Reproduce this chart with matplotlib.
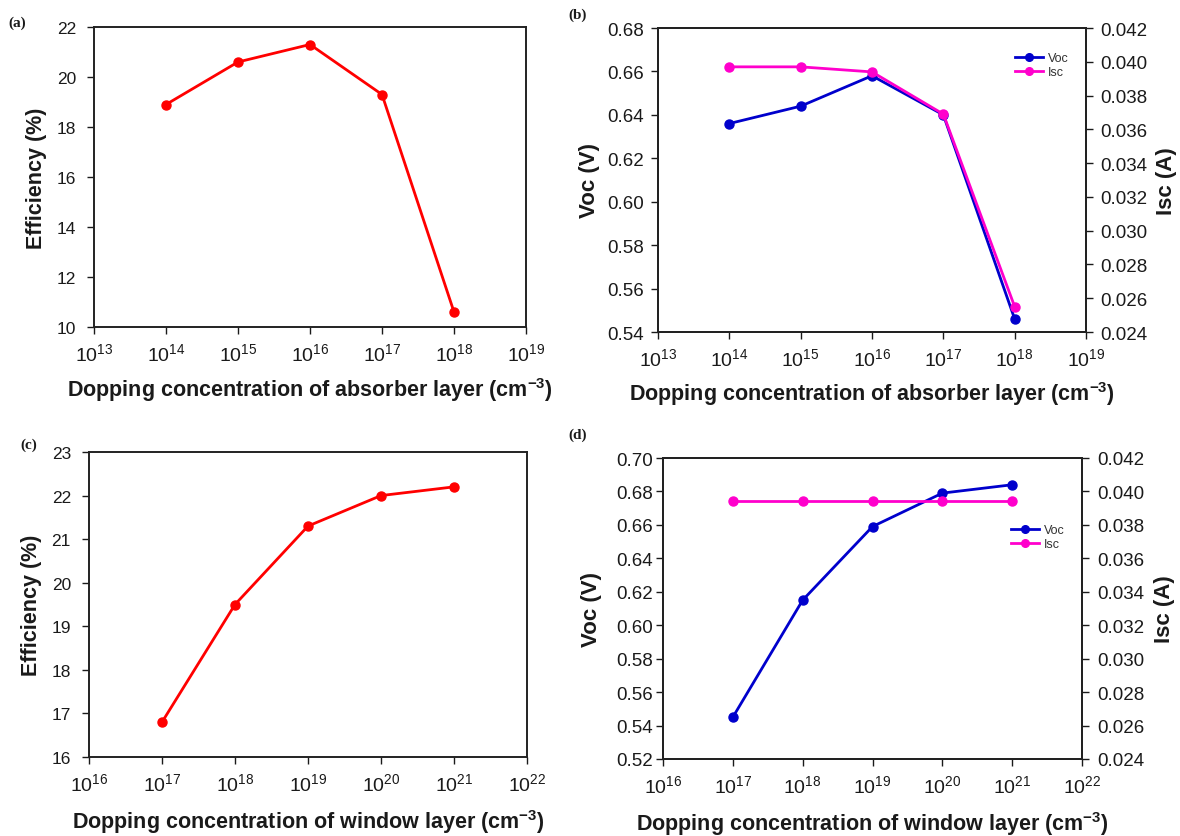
import matplotlib
matplotlib.use("Agg")
import matplotlib.pyplot as plt
from matplotlib.ticker import NullLocator, FixedLocator, FixedFormatter
from matplotlib.lines import Line2D

plt.rcParams['font.family'] = ['Liberation Sans', 'DejaVu Sans']
plt.rcParams['mathtext.fontset'] = 'custom'
plt.rcParams['mathtext.rm'] = 'Liberation Sans'
plt.rcParams['mathtext.bf'] = 'Liberation Sans:bold'
plt.rcParams['mathtext.it'] = 'Liberation Sans:italic'

# ---- data ----
absorber_doping = [1e14, 1e15, 1e16, 1e17, 1e18]
absorber_eff = [18.9, 20.6, 21.3, 19.3, 10.6]
absorber_voc = [0.636, 0.644, 0.658, 0.640, 0.546]
absorber_isc = [0.0397, 0.0397, 0.0394, 0.0369, 0.0255]

window_doping = [1e17, 1e18, 1e19, 1e20, 1e21]
window_eff = [16.8, 19.5, 21.3, 22.0, 22.2]
window_voc = [0.545, 0.615, 0.659, 0.679, 0.684]
window_isc = [0.0394, 0.0394, 0.0394, 0.0394, 0.0394]

absorber_xticks_exp = [13, 14, 15, 16, 17, 18, 19]
window_xticks_exp = [16, 17, 18, 19, 20, 21, 22]
eff_ticks_a = [10, 12, 14, 16, 18, 20, 22]
eff_ticks_c = [16, 17, 18, 19, 20, 21, 22, 23]
voc_ticks_b = [0.54, 0.56, 0.58, 0.60, 0.62, 0.64, 0.66, 0.68]
voc_ticks_d = [0.52, 0.54, 0.56, 0.58, 0.60, 0.62, 0.64, 0.66, 0.68, 0.70]
isc_ticks = [0.024, 0.026, 0.028, 0.030, 0.032, 0.034, 0.036, 0.038, 0.040, 0.042]

RED = '#ff0000'
BLUE = '#0000cc'
MAGENTA = '#ff00cc'
TXT = '#1a1a1a'

W, H = 1180, 837
fig = plt.figure(figsize=(W / 100, H / 100), dpi=100)


def make_axes(x0, y0, x1, y1):
    ax = fig.add_axes([x0 / W, 1 - y1 / H, (x1 - x0) / W, (y1 - y0) / H])
    ax._px = (x0, y0, x1, y1)
    return ax


def style_xaxis(ax, exps):
    ax.set_xscale('log')
    ticks = [10.0 ** e for e in exps]
    ax.set_xlim(ticks[0], ticks[-1])
    ax.xaxis.set_major_locator(FixedLocator(ticks))
    ax.xaxis.set_major_formatter(FixedFormatter([r'$10^{%d}$' % e for e in exps]))
    ax.xaxis.set_minor_locator(NullLocator())
    ax.tick_params(axis='x', labelsize=14, pad=6)


def common(ax):
    for s in ax.spines.values():
        s.set_linewidth(1.4)
        s.set_color('#222222')
    ax.tick_params(axis='both', direction='out', length=5, width=1.0,
                   colors=TXT)


def set_ylabel_px(ax, text, x_px, size, right=False):
    x0, y0, x1, y1 = ax._px
    if right:
        ax.set_ylabel(text, fontsize=size, fontweight='bold', color=TXT)
    else:
        ax.set_ylabel(text, fontsize=size, fontweight='bold', color=TXT)
    ax.yaxis.set_label_coords((x_px - x0) / (x1 - x0), 0.5)


def set_xlabel_px(ax, text, top_px, size):
    x0, y0, x1, y1 = ax._px
    ax.set_xlabel(text, fontsize=size, fontweight='bold', color=TXT)
    ax.xaxis.set_label_coords(0.5, -(top_px - y1) / (y1 - y0))


PANEL_KW = dict(fontsize=11, fontweight='bold', family='Liberation Serif',
                va='center', ha='left', color=TXT)
LINE_KW = dict(lw=2, marker='o', ms=6.5)

xlabel_abs = r'Dopping concentration of absorber layer (cm$^{\mathbf{-3}}$)'
xlabel_win = r'Dopping concentration of window layer (cm$^{\mathbf{-3}}$)'

# (a)
ax = make_axes(94, 28, 526, 328)
ax.plot(absorber_doping, absorber_eff, color=RED, **LINE_KW)
common(ax)
style_xaxis(ax, absorber_xticks_exp)
ax.set_ylim(10, 22)
ax.set_yticks(eff_ticks_a)
ax.tick_params(axis='y', labelsize=12.5, pad=8)
set_ylabel_px(ax, 'Efficiency (%)', 47, 15.5)
set_xlabel_px(ax, xlabel_abs, 376, 15.5)
fig.text(8 / W, 1 - 23 / H, '(a)', **PANEL_KW)

# (b)
ax = make_axes(658, 29, 1086, 333)
ax2 = ax.twinx()
ax2._px = ax._px
ax.plot(absorber_doping, absorber_voc, color=BLUE, **LINE_KW)
ax2.plot(absorber_doping, absorber_isc, color=MAGENTA, **LINE_KW)
common(ax)
common(ax2)
style_xaxis(ax, absorber_xticks_exp)
ax.set_ylim(0.54, 0.68)
ax.set_yticks(voc_ticks_b)
ax.set_yticklabels(['%.2f' % v for v in voc_ticks_b])
ax2.set_ylim(0.024, 0.042)
ax2.set_yticks(isc_ticks)
ax2.set_yticklabels(['%.3f' % v for v in isc_ticks])
ax.tick_params(axis='y', labelsize=13.5, pad=5)
ax2.tick_params(axis='y', labelsize=13.5, pad=5)
set_ylabel_px(ax, 'Voc (V)', 600, 16)
set_ylabel_px(ax2, 'Isc (A)', 1156, 16, right=True)
set_xlabel_px(ax, xlabel_abs, 380, 15.5)
handles = [Line2D([], [], color=BLUE, lw=2, marker='o', ms=5.5),
           Line2D([], [], color=MAGENTA, lw=2, marker='o', ms=5.5)]
fig.legend(handles, ['Voc', 'Isc'], loc='upper left',
           bbox_to_anchor=(1015 / W, 1 - 53 / H), frameon=False, fontsize=9,
           borderaxespad=0, borderpad=0,
           handlelength=2.2, handletextpad=0.4, labelspacing=0.15, labelcolor='#333333')
fig.text(568 / W, 1 - 15 / H, '(b)', **PANEL_KW)

# (c)
ax = make_axes(89, 453, 527, 758)
ax.plot(window_doping, window_eff, color=RED, **LINE_KW)
common(ax)
style_xaxis(ax, window_xticks_exp)
ax.set_ylim(16, 23)
ax.set_yticks(eff_ticks_c)
ax.tick_params(axis='y', labelsize=12.5, pad=8)
set_ylabel_px(ax, 'Efficiency (%)', 42, 15.5)
set_xlabel_px(ax, xlabel_win, 808, 15.5)
fig.text(20 / W, 1 - 445 / H, '(c)', **PANEL_KW)

# (d)
ax = make_axes(663, 459, 1082, 760)
ax2 = ax.twinx()
ax2._px = ax._px
ax.plot(window_doping, window_voc, color=BLUE, **LINE_KW)
ax2.plot(window_doping, window_isc, color=MAGENTA, **LINE_KW)
common(ax)
common(ax2)
style_xaxis(ax, window_xticks_exp)
ax.set_ylim(0.52, 0.70)
ax.set_yticks(voc_ticks_d)
ax.set_yticklabels(['%.2f' % v for v in voc_ticks_d])
ax2.set_ylim(0.024, 0.042)
ax2.set_yticks(isc_ticks)
ax2.set_yticklabels(['%.3f' % v for v in isc_ticks])
ax.tick_params(axis='y', labelsize=13.5, pad=2)
ax2.tick_params(axis='y', labelsize=13.5, pad=6)
set_ylabel_px(ax, 'Voc (V)', 602, 16)
set_ylabel_px(ax2, 'Isc (A)', 1154, 16, right=True)
set_xlabel_px(ax, xlabel_win, 810, 15.5)
fig.legend(handles, ['Voc', 'Isc'], loc='upper left',
           bbox_to_anchor=(1011 / W, 1 - 525 / H), frameon=False, fontsize=9,
           borderaxespad=0, borderpad=0,
           handlelength=2.2, handletextpad=0.4, labelspacing=0.15, labelcolor='#333333')
fig.text(568 / W, 1 - 435 / H, '(d)', **PANEL_KW)

fig.savefig('out.png', dpi=100, facecolor='white')
